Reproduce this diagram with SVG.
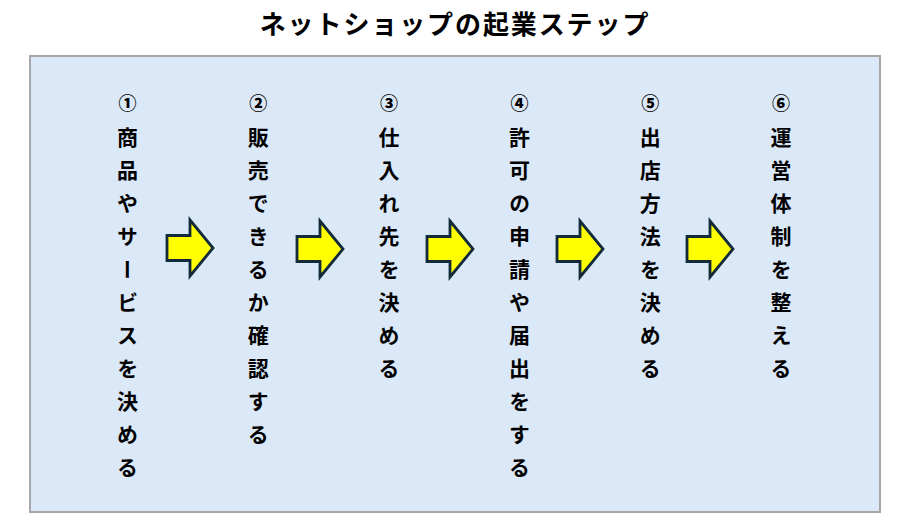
<svg xmlns="http://www.w3.org/2000/svg" width="911" height="531" viewBox="0 0 911 531">
  <style>
    .title { font-family: "Noto Sans CJK JP", "Noto Sans", sans-serif; font-weight: bold; font-size: 26px; fill: #000; }
    .num { font-family: "Noto Sans CJK JP", "Noto Sans", sans-serif; font-weight: 900; font-size: 18px; fill: #000; text-anchor: middle; }
    .col { font-family: "Noto Sans CJK JP", "Noto Sans", sans-serif; font-weight: bold; font-size: 21px; fill: #000; writing-mode: vertical-rl; letter-spacing: 12px; }
    .arrow { fill: #ffff00; stroke: #132a3b; stroke-width: 2.8; stroke-linejoin: miter; }
  </style>
  <rect width="911" height="531" fill="#ffffff"/>
  <text class="title" x="455" y="34" text-anchor="middle" letter-spacing="1.9">ネットショップの起業ステップ</text>
  <rect id="panel" x="30" y="56" width="850" height="456" fill="#dae8f7" stroke="#a6a6a6" stroke-width="2"/>

  <g id="step1">
    <text class="num" x="127.5" y="109.5">①</text>
    <text class="col" x="127.5" y="126.5">商品やサービスを決める</text>
  </g>
  <g id="step2">
    <text class="num" x="258.2" y="109.5">②</text>
    <text class="col" x="258.2" y="126.5">販売できるか確認する</text>
  </g>
  <g id="step3">
    <text class="num" x="388.9" y="109.5">③</text>
    <text class="col" x="388.9" y="126.5">仕入れ先を決める</text>
  </g>
  <g id="step4">
    <text class="num" x="519.6" y="109.5">④</text>
    <text class="col" x="519.6" y="126.5">許可の申請や届出をする</text>
  </g>
  <g id="step5">
    <text class="num" x="650.3" y="109.5">⑤</text>
    <text class="col" x="650.3" y="126.5">出店方法を決める</text>
  </g>
  <g id="step6">
    <text class="num" x="781" y="109.5">⑥</text>
    <text class="col" x="781" y="126.5">運営体制を整える</text>
  </g>

  <g id="connectors">
    <path class="arrow" transform="translate(167,248)" d="M0,-12.5 H23 V-28 L46,0 L23,28 V12.5 H0 Z"/>
    <path class="arrow" transform="translate(297,249)" d="M0,-12.5 H23 V-28 L46,0 L23,28 V12.5 H0 Z"/>
    <path class="arrow" transform="translate(427,249)" d="M0,-12.5 H23 V-28 L46,0 L23,28 V12.5 H0 Z"/>
    <path class="arrow" transform="translate(557,249)" d="M0,-12.5 H23 V-28 L46,0 L23,28 V12.5 H0 Z"/>
    <path class="arrow" transform="translate(687,249)" d="M0,-12.5 H23 V-28 L46,0 L23,28 V12.5 H0 Z"/>
  </g>
</svg>
